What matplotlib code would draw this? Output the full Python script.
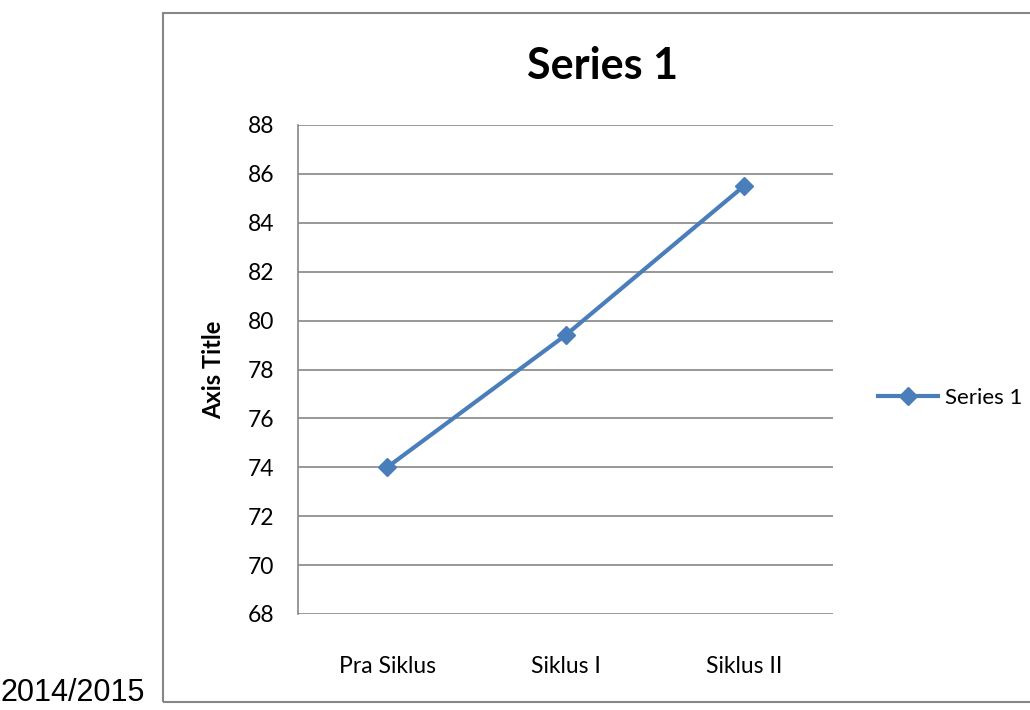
import matplotlib
matplotlib.use("Agg")
from matplotlib import pyplot as plt
from matplotlib.patches import Rectangle

categories = ["Pra Siklus", "Siklus I", "Siklus II"]
values = [74, 79.4, 85.5]
yticks = [68, 70, 72, 74, 76, 78, 80, 82, 84, 86, 88]

plt.rcParams["font.family"] = ["Lato", "DejaVu Sans"]

fig = plt.figure(figsize=(10.3, 7.1), dpi=100)
ax = fig.add_axes([298 / 1030, 96 / 710, 535 / 1030, 489 / 710])

# outer chart frame
fig.patches.append(Rectangle((163 / 1030, 8 / 710), 0.9, 689 / 710,
                             transform=fig.transFigure, fill=False,
                             edgecolor="#868686", linewidth=1.5))

ax.plot(range(len(categories)), values, color="#4A7EBB", linewidth=3,
        marker="D", markersize=9, label="Series 1")

ax.set_xlim(-0.5, 2.5)
ax.set_ylim(68, 88)
ax.set_yticks(yticks)
ax.set_xticks(range(len(categories)))
ax.set_xticklabels(categories)
ax.yaxis.grid(True, color="#868686", linewidth=1.2)
ax.set_axisbelow(True)
for s in ["top", "right", "bottom"]:
    ax.spines[s].set_visible(False)
ax.spines["left"].set_color("#868686")
ax.spines["left"].set_linewidth(1.2)
ax.tick_params(axis="both", length=0, labelsize=16.5, colors="black")
ax.tick_params(axis="x", pad=30)
ax.tick_params(axis="y", pad=17)
ax.set_ylabel("Axis Title", fontsize=17, fontweight="bold", labelpad=16)

fig.text(603 / 1030, 1 - 66 / 710, "Series 1", fontsize=31, fontweight="bold",
         ha="center", va="center")

fig.legend(loc="center left", bbox_to_anchor=(858 / 1030, 1 - 398 / 710),
           frameon=False, fontsize=16, handlelength=2.7, handletextpad=0.3)

fig.text(0 / 1030, 1 - 693 / 710, "2014/2015", fontsize=22,
         family="Liberation Sans", ha="left", va="center")

fig.savefig("out.png", dpi=100)
